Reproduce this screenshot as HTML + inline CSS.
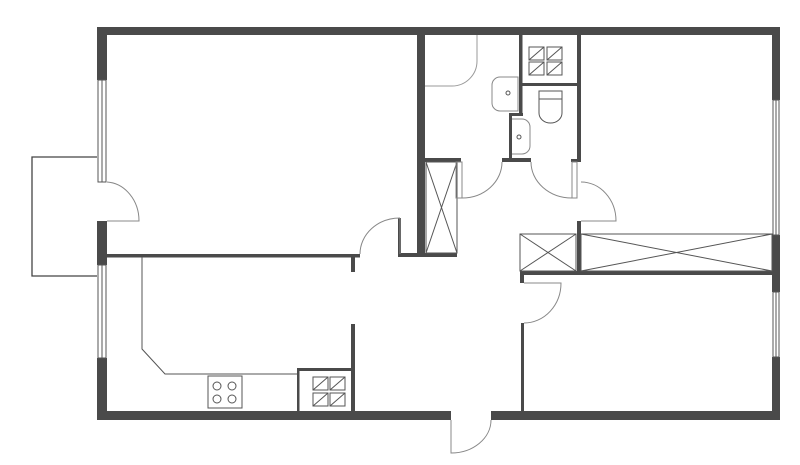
<!DOCTYPE html>
<html><head><style>html,body{margin:0;padding:0;background:#fff}svg{display:block}</style></head>
<body>
<svg width="800" height="465" viewBox="0 0 800 465" xmlns="http://www.w3.org/2000/svg">
<g fill="#4a4a4a" stroke="none">
<!-- top wall -->
<rect x="97" y="27" width="683" height="8"/>
<!-- left wall -->
<rect x="97" y="27" width="10" height="53"/>
<rect x="97" y="221" width="10" height="44"/>
<rect x="97" y="358" width="10" height="62"/>
<!-- right wall -->
<rect x="772" y="27" width="8" height="73"/>
<rect x="772" y="235" width="8" height="57"/>
<rect x="772" y="357" width="8" height="63"/>
<!-- bottom wall -->
<rect x="97" y="411" width="354" height="9"/>
<rect x="491" y="411" width="289" height="9"/>
<!-- interior -->
<rect x="107" y="254" width="253" height="3.5"/>
<rect x="398" y="218" width="3" height="39"/>
<rect x="400" y="253" width="57" height="4"/>
<rect x="417" y="35" width="8" height="220"/>
<rect x="425" y="158" width="36" height="4"/>
<rect x="351" y="257" width="4" height="15"/>
<rect x="351" y="324" width="4" height="87"/>
<rect x="297" y="368" width="56" height="3"/>
<rect x="297" y="368" width="2.5" height="43"/>
<rect x="521" y="323" width="3" height="88"/>
<rect x="520" y="271" width="260" height="4"/>
<rect x="520" y="271" width="4" height="12"/>
<rect x="577" y="35" width="4" height="124"/>
<rect x="577" y="221" width="4" height="50"/>
<rect x="571" y="159" width="10" height="3"/>
<rect x="502" y="158" width="29" height="4"/>
<rect x="519" y="35" width="3.5" height="80"/>
<rect x="519" y="83" width="58" height="3"/>
<rect x="509" y="113" width="14" height="3"/>
<rect x="509" y="113" width="3" height="49"/>
</g>
<g fill="none" stroke="#555" stroke-width="1">
<!-- windows -->
<rect x="98" y="80" width="8" height="102"/><line x1="102" y1="80" x2="102" y2="182"/>
<rect x="98" y="265" width="8" height="93"/><line x1="102" y1="265" x2="102" y2="358"/>
<rect x="773" y="100" width="6" height="135"/><line x1="776" y1="100" x2="776" y2="235"/>
<rect x="773" y="292" width="6" height="65"/><line x1="776" y1="292" x2="776" y2="357"/>
<!-- balcony -->
<polyline points="97,157 32,157 32,276 97,276" stroke="#444" stroke-width="1.3"/>
<!-- kitchen counter -->
<polyline points="142,257 142,349 165,374 297,374"/>
<rect x="208" y="376" width="34" height="32"/>
<circle cx="217" cy="386" r="4"/><circle cx="232" cy="386" r="4"/>
<circle cx="217" cy="399" r="4"/><circle cx="232" cy="399" r="4"/>
<!-- tiles kitchen -->
<rect x="313" y="377" width="15" height="13"/><line x1="313" y1="390" x2="328" y2="377"/>
<rect x="330" y="377" width="15" height="13"/><line x1="330" y1="390" x2="345" y2="377"/>
<rect x="313" y="393" width="15" height="13"/><line x1="313" y1="406" x2="328" y2="393"/>
<rect x="330" y="393" width="15" height="13"/><line x1="330" y1="406" x2="345" y2="393"/>
<!-- tiles bath -->
<rect x="529" y="47" width="15" height="13"/><line x1="529" y1="60" x2="544" y2="47"/>
<rect x="547" y="47" width="15" height="13"/><line x1="547" y1="60" x2="562" y2="47"/>
<rect x="529" y="62" width="15" height="13"/><line x1="529" y1="75" x2="544" y2="62"/>
<rect x="547" y="62" width="15" height="13"/><line x1="547" y1="75" x2="562" y2="62"/>
<!-- wardrobes -->
<rect x="426" y="162" width="31" height="91"/><line x1="426" y1="162" x2="457" y2="253"/><line x1="457" y1="162" x2="426" y2="253"/>
<rect x="520" y="234" width="56" height="37"/><line x1="520" y1="234" x2="576" y2="271"/><line x1="576" y1="234" x2="520" y2="271"/>
<rect x="581" y="234" width="191" height="37"/><line x1="581" y1="234" x2="772" y2="271"/><line x1="772" y1="234" x2="581" y2="271"/>
<!-- toilet & sinks -->
<rect x="539" y="91" width="23" height="8"/>
<path d="M539,99 L539,113 A11.5,10 0 0 0 562,113 L562,99"/>
<path d="M518,77 L500,77 A8,8 0 0 0 492,85 L492,103 A8,8 0 0 0 500,111 L518,111 Z" stroke="#888"/>
<circle cx="508" cy="93" r="2"/>
<path d="M512,119 L522,119 A8,8 0 0 1 530,127 L530,146 A8,8 0 0 1 522,154 L512,154" stroke="#888"/>
<circle cx="519" cy="137" r="2"/>
<!-- shower -->
<path d="M425,86 L452,86 A25,25 0 0 0 477,61 L477,35" stroke="#999"/>
</g>
<g fill="none" stroke="#888" stroke-width="1">
<!-- doors -->
<path d="M107,221 L139,221 A34,39 0 0 0 107,182"/>
<path d="M400,218 L400,254 M360,254 A40,36 0 0 1 400,218"/>
<path d="M451,420 L451,453 A40,33 0 0 0 491,420"/>
<path d="M524,283 L561,283 A37,40 0 0 1 524,323"/>
<path d="M581,221 L616,221 A35,39 0 0 0 581,182"/>
<path d="M462,162 L462,198 A40,36 0 0 0 502,162"/>
<rect x="456" y="162" width="6" height="36"/>
<path d="M572,162 L572,198 A41,36 0 0 1 531,162"/>
<rect x="572" y="162" width="5" height="36"/>
</g>
</svg>
</body></html>
